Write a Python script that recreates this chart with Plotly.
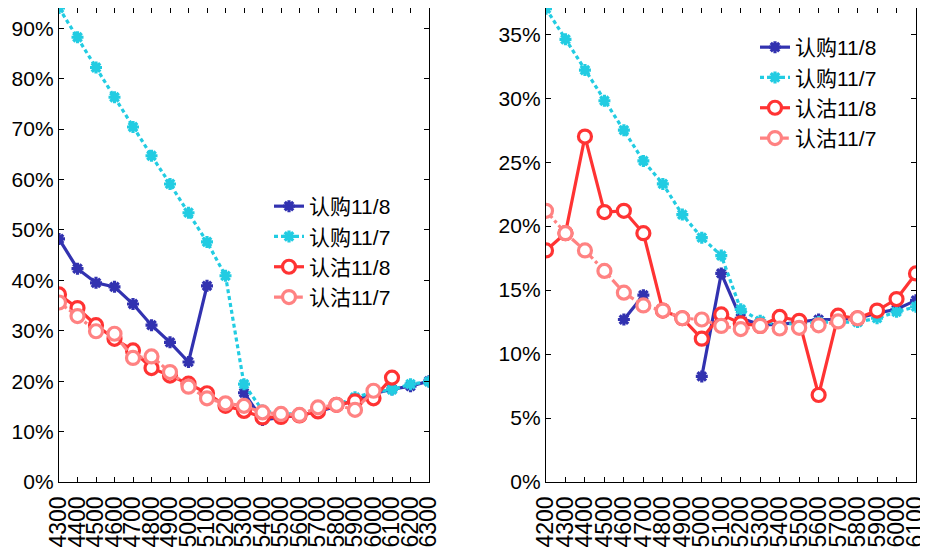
import plotly.graph_objects as go

# ---------------- data ----------------
left_strikes = [4300, 4400, 4500, 4600, 4700, 4800, 4900, 5000, 5100, 5200, 5300,
                5400, 5500, 5600, 5700, 5800, 5900, 6000, 6100, 6200, 6300]
left_call_1108 = [48.2, 42.3, 39.5, 38.7, 35.3, 31.1, 27.7, 23.8, 38.9, None, 17.7,
                  12.3, 12.8, 13.2, 14.0, 15.0, 16.3, 17.5, 18.4, 19.0, 20.0]
left_call_1107 = [94.0, 88.2, 82.2, 76.3, 70.4, 64.7, 59.1, 53.4, 47.6, 40.9, 19.4,
                  14.2, 13.5, 13.5, 14.2, 15.2, 16.8, 17.8, 18.3, 19.4, 19.9]
left_put_1108 = [37.2, 34.5, 31.1, 28.4, 26.1, 22.6, 21.1, 19.5, 17.6, 15.1, 14.1,
                 12.8, 12.9, 13.2, 14.0, 15.3, 16.0, 16.6, 20.7, None, None]
left_put_1107 = [35.6, 32.9, 29.9, 29.4, 24.6, 24.9, 21.8, 18.9, 16.6, 15.6, 15.1,
                 13.8, 13.5, 13.3, 14.8, 15.3, 14.3, 18.1, None, None, None]

right_strikes = [4200, 4300, 4400, 4500, 4600, 4700, 4800, 4900, 5000, 5100,
                 5200, 5300, 5400, 5500, 5600, 5700, 5800, 5900, 6000, 6100]
right_call_1108 = [None, None, None, None, 12.7, 14.6, None, None, 8.25, 16.3,
                   12.8, 12.3, 12.3, 12.5, 12.7, 12.7, 12.8, 13.2, 13.5, 14.2]
right_call_1107 = [37.0, 34.6, 32.2, 29.8, 27.5, 25.1, 23.3, 20.9, 19.1, 17.7,
                   13.5, 12.6, 12.3, 12.4, 12.5, 12.5, 12.5, 12.8, 13.3, 13.7]
right_put_1108 = [18.1, 19.45, 27.0, 21.1, 21.2, 19.45, 13.4, 12.8, 11.2, 13.1,
                  12.4, 12.2, 12.9, 12.6, 6.8, 13.0, 12.8, 13.4, 14.3, 16.3]
right_put_1107 = [21.2, 19.45, 18.1, 16.5, 14.8, 13.8, 13.4, 12.8, 12.7, 12.2,
                  11.95, 12.2, 12.0, 12.05, 12.25, 12.55, 12.8, None, None, None]

series_names = ["认购11/8", "认购11/7", "认沽11/8", "认沽11/7"]

# ---------------- styles ----------------
C_BLUE = "#3232B0"
C_CYAN = "#22CCE2"
C_RED = "#FF3333"
C_PINK = "#FF8282"
FONT = "Liberation Sans, Arial, Noto Sans CJK SC, sans-serif"


def pct(vals):
    return [None if v is None else v / 100.0 for v in vals]


def add_series(fig, x, ys, xa, ya, legend):
    styles = [
        dict(color=C_BLUE, dash="solid", sym="asterisk-open", size=10, fill=C_BLUE),
        dict(color=C_CYAN, dash="4px,3px", sym="asterisk-open", size=10, fill=C_CYAN),
        dict(color=C_RED, dash="solid", sym="circle", size=13, fill="white"),
        dict(color=C_PINK, dash="dashdot", sym="circle", size=13, fill="white"),
    ]
    for name, y, st in zip(series_names, ys, styles):
        fig.add_trace(go.Scatter(
            x=x, y=pct(y), name=name, mode="lines+markers",
            xaxis=xa, yaxis=ya, legend=legend, connectgaps=False,
            line=dict(color=st["color"], width=3.2, dash=st["dash"]),
            marker=dict(symbol=st["sym"], size=st["size"], color=st["fill"],
                        line=dict(color=st["color"], width=3.2)),
        ))


fig = go.Figure()
add_series(fig, left_strikes,
           [left_call_1108, left_call_1107, left_put_1108, left_put_1107],
           "x", "y", "legend")
add_series(fig, right_strikes,
           [right_call_1108, right_call_1107, right_put_1108, right_put_1107],
           "x2", "y2", "legend2")

# the page body adds an 8px offset; positions below are compensated for it
W, H = 928, 547
PH = 474  # plot area height
axis_common = dict(showline=True, linecolor="black", linewidth=1.3, mirror="allticks",
                   ticks="inside", ticklen=5, tickcolor="black", showgrid=False,
                   zeroline=False, automargin=False)
yfont = dict(family=FONT, size=21, color="black")
xfont = dict(family=FONT, size=23, color="black")

fig.update_layout(
    width=W, height=H,
    margin=dict(l=0, r=0, t=0, b=H - PH),
    paper_bgcolor="white", plot_bgcolor="white",
    font=dict(family=FONT, size=21, color="black"),
    xaxis=dict(domain=[51 / W, 421 / W], range=[4300, 6300], dtick=100,
               tickangle=-90, anchor="y", tickfont=xfont, ticklabelstandoff=4,
               **axis_common),
    yaxis=dict(domain=[0, 1], range=[0, 0.940], dtick=0.1, tickformat=".0%",
               anchor="x", tickfont=yfont, **axis_common),
    xaxis2=dict(domain=[538 / W, 908 / W], range=[4200, 6100], dtick=100,
                tickangle=-90, anchor="y2", tickfont=xfont, ticklabelstandoff=4,
                **axis_common),
    yaxis2=dict(domain=[0, 1], range=[0, 0.3705], dtick=0.05, tickformat=".0%",
                anchor="x2", tickfont=yfont, **axis_common),
    legend=dict(x=261 / W, y=1 - 178 / PH, xanchor="left", yanchor="top",
                bgcolor="rgba(0,0,0,0)", itemwidth=30, tracegroupgap=0,
                font=dict(family=FONT, size=21, color="black")),
    legend2=dict(x=747 / W, y=1 - 19 / PH, xanchor="left", yanchor="top",
                 bgcolor="rgba(0,0,0,0)", itemwidth=30, tracegroupgap=0,
                 font=dict(family=FONT, size=21, color="black")),
)

fig.write_html("out.html")
